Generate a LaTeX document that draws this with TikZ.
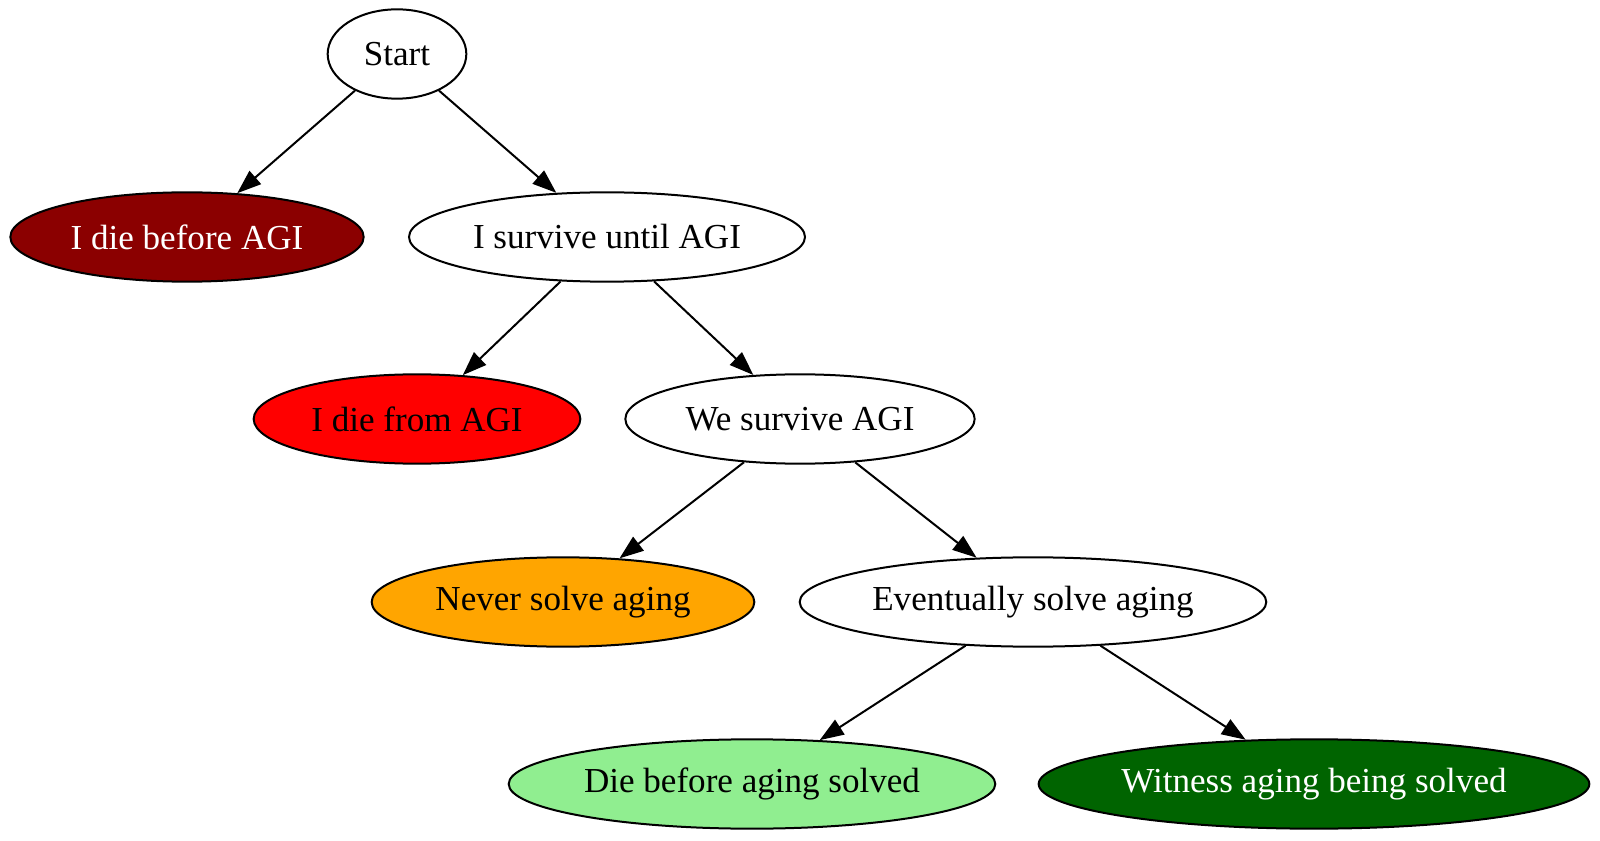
\documentclass[tikz,border=0pt]{standalone}
\usepackage{fontspec}
\setmainfont{Liberation Serif}
\usepackage{xcolor}
\usetikzlibrary{shapes,arrows.meta,positioning}
\definecolor{darkred}{HTML}{8B0000}
\definecolor{lightgreen}{HTML}{90EE90}
\definecolor{darkgreen}{HTML}{006400}
\definecolor{orangeX}{HTML}{FFA500}
\tikzset{
  state/.style={ellipse,draw,line width=1.5pt,inner sep=0pt,minimum height=67pt,
    font=\fontsize{26.3}{30}\selectfont},
  edge/.style={-{Triangle[length=18pt,width=13pt]},line width=1.5pt}
}

\begin{document}
\begin{tikzpicture}[x=0.75pt,y=-0.75pt]
    \useasboundingbox (0,0) rectangle (1600,841);
    % Outcomes
    \node[state,minimum width=104pt] (start) at (397,54) {Start};
    \node[state,minimum width=265pt,fill=darkred,text=white] (diebefore) at (187,237) {I die before AGI};
    \node[state,minimum width=297pt] (surviveuntil) at (607,237) {I survive until AGI};
    \node[state,minimum width=245pt,fill=red] (diefrom) at (417,419) {I die from AGI};
    \node[state,minimum width=262pt] (wesurvive) at (800,419) {We survive AGI};
    \node[state,minimum width=287pt,fill=orangeX] (never) at (563,602) {Never solve aging};
    \node[state,minimum width=350pt] (eventually) at (1033,602) {Eventually solve aging};
    \node[state,minimum width=365pt,fill=lightgreen] (dieaging) at (752,784) {Die before aging solved};
    \node[state,minimum width=413pt,fill=darkgreen,text=white] (witness) at (1314,784) {Witness aging being solved};

    % Branches
    \draw[edge] (start) -- (diebefore);
    \draw[edge] (start) -- (surviveuntil);
    \draw[edge] (surviveuntil) -- (diefrom);
    \draw[edge] (surviveuntil) -- (wesurvive);
    \draw[edge] (wesurvive) -- (never);
    \draw[edge] (wesurvive) -- (eventually);
    \draw[edge] (eventually) -- (dieaging);
    \draw[edge] (eventually) -- (witness);
\end{tikzpicture}
\end{document}
